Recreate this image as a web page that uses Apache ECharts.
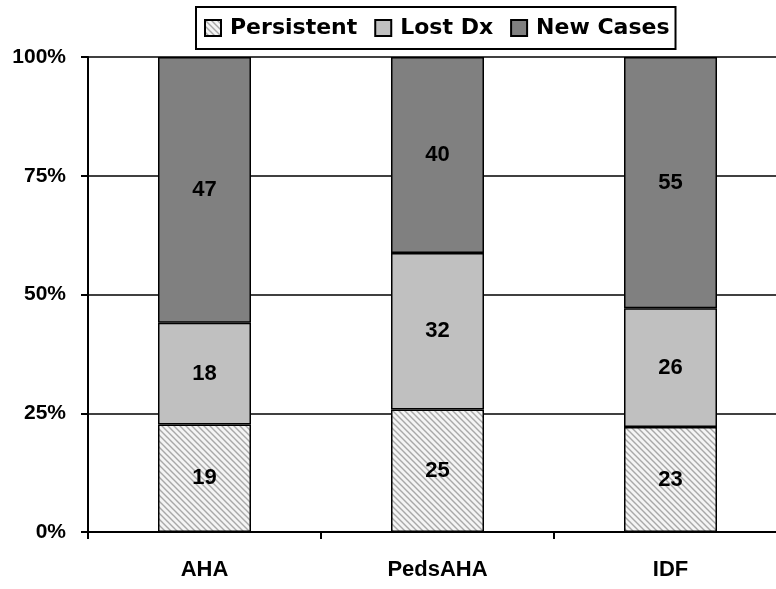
<!DOCTYPE html>
<html>
<head>
<meta charset="utf-8">
<script src="https://cdn.jsdelivr.net/npm/echarts@6/dist/echarts.min.js"></script>
<style>
  html, body { margin: 0; padding: 0; background: #fff; }
  .histogram { width: 776px; height: 589px; }
</style>
</head>
<body>
<div class="histogram"></div>
<script>
// 数据
const categories = ['AHA', 'PedsAHA', 'IDF'];
const persistent = [19, 25, 23];
const lostDx = [18, 32, 26];
const newCases = [47, 40, 55];
const yTicks = [0, 25, 50, 75, 100];

// 百分比堆叠
const totals = categories.map((c, i) => persistent[i] + lostDx[i] + newCases[i]);
function toPct(arr) {
  return arr.map((v, i) => ({ value: v / totals[i] * 100, raw: v }));
}

// 斜线填充
function hatch() {
  let c = document.createElement('canvas');
  c.width = 6;
  c.height = 6;
  let ctx = c.getContext('2d');
  ctx.fillStyle = '#f4f4f4';
  ctx.fillRect(0, 0, 6, 6);
  ctx.strokeStyle = '#a8a8a8';
  ctx.lineWidth = 1.4;
  ctx.beginPath();
  ctx.moveTo(-1, -1); ctx.lineTo(7, 7);
  ctx.moveTo(-4, 2); ctx.lineTo(2, 8);
  ctx.moveTo(2, -4); ctx.lineTo(8, 2);
  ctx.stroke();
  return c;
}

(function () {
  let myChart = echarts.init(document.querySelector('.histogram'));

  const font = 'Liberation Sans, Arial, sans-serif';
  const label = {
    show: true,
    position: 'inside',
    color: '#000',
    fontSize: 22,
    fontWeight: 'bold',
    fontFamily: font,
    formatter: p => p.data.raw
  };
  const border = { borderColor: '#000', borderWidth: 1.5 };

  let option = {
    animation: false,
    backgroundColor: '#fff',
    legend: {
      left: 196,
      top: 7,
      padding: [10, 6, 10, 8],
      borderColor: '#000',
      borderWidth: 2,
      icon: 'rect',
      itemWidth: 16,
      itemHeight: 16,
      itemGap: 17,
      textStyle: { fontSize: 22, fontWeight: 'bold', fontFamily: 'DejaVu Sans', color: '#000', padding: [2, 0, 0, 4] },
      data: ['Persistent', 'Lost Dx', 'New Cases']
    },
    grid: { left: 88, width: 699, top: 57, bottom: 57, outerBoundsMode: 'none' },
    xAxis: {
      type: 'category',
      data: categories,
      axisLine: { lineStyle: { color: '#000', width: 2 } },
      axisTick: { show: true, alignWithLabel: false, length: 7, lineStyle: { color: '#000', width: 2 } },
      axisLabel: { color: '#000', fontSize: 22, fontWeight: 'bold', fontFamily: font, margin: 27 }
    },
    yAxis: {
      type: 'value',
      min: yTicks[0],
      max: yTicks[yTicks.length - 1],
      interval: 25,
      axisLine: { show: true, lineStyle: { color: '#000', width: 2 } },
      axisTick: { show: true, length: 7, lineStyle: { color: '#000', width: 2 } },
      axisLabel: { color: '#000', fontSize: 21, fontWeight: 'bold', fontFamily: font, margin: 22, formatter: '{value}%' },
      splitLine: { show: true, lineStyle: { color: '#000', width: 1.5 } }
    },
    series: [
      {
        name: 'Persistent',
        type: 'bar',
        stack: 'a',
        barWidth: 93,
        data: toPct(persistent),
        itemStyle: Object.assign({ color: { image: hatch(), repeat: 'repeat' } }, border),
        label: label
      },
      {
        name: 'Lost Dx',
        type: 'bar',
        stack: 'a',
        data: toPct(lostDx),
        itemStyle: Object.assign({ color: '#c0c0c0' }, border),
        label: label
      },
      {
        name: 'New Cases',
        type: 'bar',
        stack: 'a',
        data: toPct(newCases),
        itemStyle: Object.assign({ color: '#808080' }, border),
        label: label
      }
    ]
  };

  myChart.setOption(option);
})();
</script>
</body>
</html>
